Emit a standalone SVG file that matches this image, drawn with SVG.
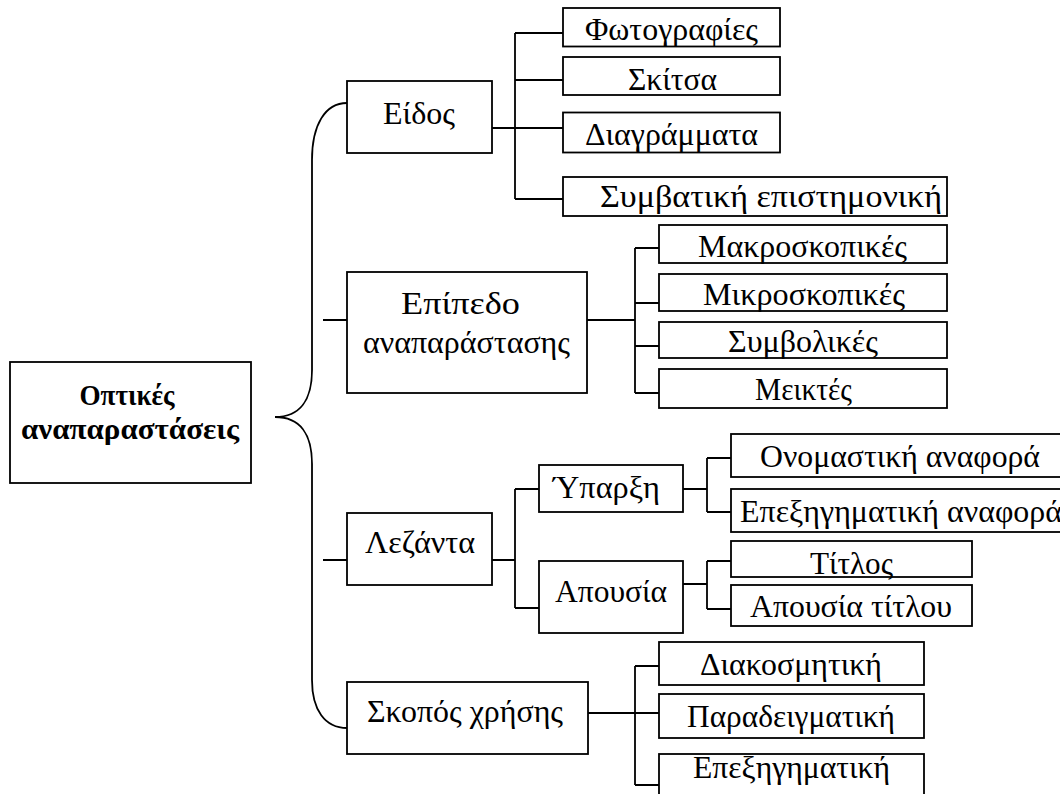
<svg xmlns="http://www.w3.org/2000/svg" width="1060" height="794" viewBox="0 0 1060 794">
<style>
rect{fill:#fff;stroke:#000;stroke-width:1.8}
text{font-family:"Liberation Serif","Times New Roman",serif;font-size:31px;fill:#000;text-anchor:middle}
.b{font-weight:bold;font-size:29px}
.c path{fill:none;stroke:#000;stroke-width:1.8}
</style>
<g class="c" id="connectors">
<path d="M347,103 C325,103 312,125 312,160 L312,370 C312,400 300,417 275,417 C300,417 312,434 312,464 L312,680 C312,710 325,728 347,728"/>
<path d="M492,128 H563 M515,33 V199 M515,33 H563 M515,80 H563 M515,199 H563"/>
<path d="M323,320 H347 M587,320 H635 M635,248 V393 M635,248 H659 M635,303 H659 M635,346 H659 M635,393 H659"/>
<path d="M323,560 H347 M492,560 H515 M515,489 V608 M515,489 H539 M515,608 H539"/>
<path d="M683,489 H707 M707,458 V512 M707,458 H731 M707,512 H731"/>
<path d="M683,584 H707 M707,561 V609 M707,561 H731 M707,609 H731"/>
<path d="M588,713 H659 M635,666 V785 M635,666 H659 M635,785 H659"/>
</g>
<g id="root"><rect x="10" y="362" width="241" height="121"/><text class="b" x="127" y="405" textLength="95" lengthAdjust="spacingAndGlyphs">Οπτικές</text><text class="b" x="130" y="439" textLength="218" lengthAdjust="spacingAndGlyphs">αναπαραστάσεις</text></g>
<g id="eidos"><rect x="347" y="81" width="145" height="72"/><text x="419" y="124" textLength="72" lengthAdjust="spacingAndGlyphs">Είδος</text></g>
<g id="fotografies"><rect x="563" y="8" width="217" height="38.5"/><text x="671.5" y="40" textLength="173" lengthAdjust="spacingAndGlyphs">Φωτογραφίες</text></g>
<g id="skitsa"><rect x="563" y="57" width="217" height="38"/><text x="672.5" y="90" textLength="89" lengthAdjust="spacingAndGlyphs">Σκίτσα</text></g>
<g id="diagrammata"><rect x="563" y="112.5" width="217" height="40"/><text x="671.5" y="145" textLength="173" lengthAdjust="spacingAndGlyphs">Διαγράμματα</text></g>
<g id="symvatiki"><rect x="563" y="177" width="384" height="39"/><text x="771" y="207" textLength="342" lengthAdjust="spacingAndGlyphs">Συμβατική επιστημονική</text></g>
<g id="epipedo"><rect x="347" y="272" width="240" height="121"/><text x="460.5" y="314" textLength="119" lengthAdjust="spacingAndGlyphs">Επίπεδο</text><text x="466.5" y="353" textLength="207" lengthAdjust="spacingAndGlyphs">αναπαράστασης</text></g>
<g id="makro"><rect x="659" y="225" width="288" height="38"/><text x="802.5" y="257" textLength="209" lengthAdjust="spacingAndGlyphs">Μακροσκοπικές</text></g>
<g id="mikro"><rect x="659" y="274" width="288" height="37"/><text x="804" y="305" textLength="202" lengthAdjust="spacingAndGlyphs">Μικροσκοπικές</text></g>
<g id="symvolikes"><rect x="659" y="322" width="288" height="36"/><text x="803" y="352" textLength="150" lengthAdjust="spacingAndGlyphs">Συμβολικές</text></g>
<g id="meiktes"><rect x="659" y="369" width="288" height="39"/><text x="803.5" y="400" textLength="97" lengthAdjust="spacingAndGlyphs">Μεικτές</text></g>
<g id="lezanta"><rect x="347" y="513" width="145" height="72"/><text x="420" y="553" textLength="110" lengthAdjust="spacingAndGlyphs">Λεζάντα</text></g>
<g id="yparxi"><rect x="539" y="465" width="144" height="47"/><text x="606.5" y="498" textLength="107" lengthAdjust="spacingAndGlyphs">Ύπαρξη</text></g>
<g id="apousia"><rect x="539" y="561" width="144" height="72"/><text x="611" y="602" textLength="112" lengthAdjust="spacingAndGlyphs">Απουσία</text></g>
<g id="onomastiki"><rect x="731" y="434" width="340" height="43"/><text x="900" y="467" textLength="280" lengthAdjust="spacingAndGlyphs">Ονομαστική αναφορά</text></g>
<g id="epexigimatiki-anafora"><rect x="731" y="489" width="340" height="43"/><text x="740" y="522" style="text-anchor:start" textLength="322" lengthAdjust="spacingAndGlyphs">Επεξηγηματική αναφορά</text></g>
<g id="titlos"><rect x="731" y="541" width="241" height="36"/><text x="851.5" y="574" textLength="83" lengthAdjust="spacingAndGlyphs">Τίτλος</text></g>
<g id="apousia-titlou"><rect x="731" y="585" width="241" height="41"/><text x="851" y="617" textLength="202" lengthAdjust="spacingAndGlyphs">Απουσία τίτλου</text></g>
<g id="skopos"><rect x="347" y="682" width="241" height="72"/><text x="465" y="722" textLength="196" lengthAdjust="spacingAndGlyphs">Σκοπός χρήσης</text></g>
<g id="diakosmitiki"><rect x="659" y="642" width="265" height="43"/><text x="791" y="675" textLength="182" lengthAdjust="spacingAndGlyphs">Διακοσμητική</text></g>
<g id="paradeigmatiki"><rect x="659" y="694" width="265" height="44"/><text x="791" y="727" textLength="208" lengthAdjust="spacingAndGlyphs">Παραδειγματική</text></g>
<g id="epexigimatiki"><rect x="659" y="754" width="265" height="50"/><text x="791.5" y="778" textLength="197" lengthAdjust="spacingAndGlyphs">Επεξηγηματική</text></g>
</svg>
